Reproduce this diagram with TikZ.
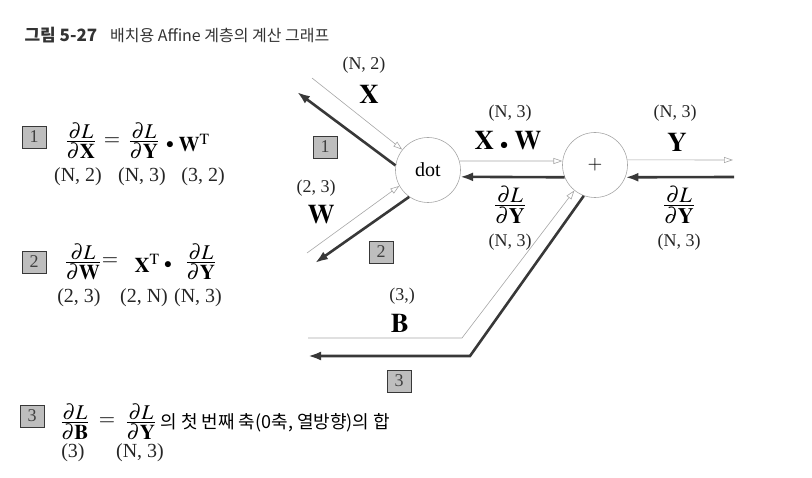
\documentclass[tikz,border=0pt]{standalone}
\usepackage{amsmath}
\usepackage{mathptmx}
\usepackage{fontspec}
\setmainfont{Liberation Serif}
\newfontfamily\krfont{Noto Sans CJK KR}
\usetikzlibrary{arrows.meta}
\definecolor{fwdgray}{HTML}{A6A6A6}
\definecolor{backdark}{HTML}{383838}
\definecolor{boxgray}{HTML}{BEBEBE}
% tight gradient fraction, dL/d(bold #1)
\newcommand{\gradof}[1]{\frac{\textstyle\partial L}{\textstyle\partial\mathbf{#1}}}

\begin{document}
\begin{tikzpicture}[x=1pt,y=-1pt,
  fwd/.style={draw=fwdgray, line width=0.6pt, -{Triangle[open,length=9pt,width=6pt]}},
  back/.style={draw=backdark, line width=2.6pt, -{Latex[length=13pt,width=9pt]}},
  opnode/.style={circle, draw=fwdgray, line width=0.6pt, minimum size=65pt, inner sep=0pt},
  numbox/.style={draw=backdark, fill=boxgray, line width=0.8pt, minimum width=24pt,
    minimum height=22pt, inner sep=0pt, font=\fontsize{18}{18}\selectfont, text=black!75},
  dimlbl/.style={font=\fontsize{18}{18}\selectfont, text=black!85},
  eqdim/.style={font=\fontsize{20}{20}\selectfont, text=black!85},
  varlbl/.style={font=\fontsize{27}{27}\selectfont},
  gradlbl/.style={font=\fontsize{22}{22}\selectfont},
  eqterm/.style={font=\fontsize{21}{21}\selectfont},
  kr/.style={font=\krfont\fontsize{16}{16}\selectfont, text=black!80}]
  \useasboundingbox (0,0) rectangle (812,478);

  % ---------- title ----------
  \node[kr, anchor=west] (title) at (21,35) {{\fontsize{17}{17}\selectfont\bfseries 그림 5-27}\hspace{0.8em}배치용 Affine 계층의 계산 그래프};

  % ---------- nodes of the graph ----------
  \node[opnode, font=\fontsize{20}{20}\selectfont] (dot) at (428,170) {dot};
  \node[opnode, font=\fontsize{19}{19}\selectfont] (plus) at (595,165) {$+$};

  \coordinate (xin) at (312,78);
  \coordinate (xout) at (297,92);
  \coordinate (win) at (307,253);
  \coordinate (wout) at (315,263);
  \coordinate (yout) at (733,160);
  \coordinate (yin) at (734,177);
  \coordinate (bin) at (308,338);
  \coordinate (bbend) at (462,338);
  \coordinate (bbackbend) at (470,356);
  \coordinate (bout) at (308,356);

  % ---------- forward (thin) ----------
  \draw[fwd] (xin) -- (dot);
  \draw[fwd] (win) -- (dot.209);
  \draw[fwd] (dot.16) -- (plus.173);
  \draw[fwd] (plus.9) -- (yout);
  \draw[fwd] (bin) -- (bbend) -- (plus.231);

  % ---------- backward (thick) ----------
  \draw[back] (dot.172) -- (xout);
  \draw[back] (dot.235) -- (wout);
  \draw[back] (plus.202) -- (dot.348);
  \draw[back] (yin) -- (plus.338);
  \draw[back] (plus.250) -- (bbackbend) -- (bout);

  % ---------- labels on the graph ----------
  \node[dimlbl] (xdim) at (364,65) {(N, 2)};
  \node[varlbl] (xvar) at (369,94) {$\mathbf{X}$};
  \node[numbox] (gbox1) at (325,147) {1};
  \node[dimlbl] (wdim) at (316,188) {(2, 3)};
  \node[varlbl] (wvar) at (321,215) {$\mathbf{W}$};
  \node[numbox] (gbox2) at (381,252) {2};

  \node[dimlbl] (xwdim) at (510,113) {(N, 3)};
  \node[varlbl] (xwvar) at (508,141) {$\mathbf{X}\;{\scriptscriptstyle\bullet}\;\mathbf{W}$};
  \node[gradlbl] (xwgrad) at (510,205) {$\gradof{Y}$};
  \node[dimlbl] (xwgraddim) at (510,242) {(N, 3)};

  \node[dimlbl] (ydim) at (675,113) {(N, 3)};
  \node[varlbl] (yvar) at (677,142) {$\mathbf{Y}$};
  \node[gradlbl] (ygrad) at (679,205) {$\gradof{Y}$};
  \node[dimlbl] (ygraddim) at (679,242) {(N, 3)};

  \node[dimlbl] (bdim) at (402,296) {(3,)};
  \node[varlbl] (bvar) at (400,323) {$\mathbf{B}$};
  \node[numbox] (gbox3) at (399,381) {3};

  % ---------- equation 1 ----------
  \node[numbox] (ebox1) at (34,137) {1};
  \node[eqterm] (e1lhs) at (81,141) {$\gradof{X}$};
  \node[eqterm] (e1eq) at (112,142) {$=$};
  \node[eqterm] (e1rhs) at (144,141) {$\gradof{Y}$};
  \node[eqterm] (e1dot) at (170,145) {${\scriptstyle\bullet}$};
  \node[eqterm, anchor=west] (e1w) at (175,143) {$\mathbf{W}^{\mathrm{T}}$};
  \node[eqdim] (e1dima) at (78,177) {(N, 2)};
  \node[eqdim] (e1dimb) at (142,177) {(N, 3)};
  \node[eqdim] (e1dimc) at (203,177) {(3, 2)};

  % ---------- equation 2 ----------
  \node[numbox] (ebox2) at (34,262) {2};
  \node[eqterm] (e2lhs) at (83,262) {$\gradof{W}$};
  \node[eqterm] (e2eq) at (110,262) {$=$};
  \node[eqterm, anchor=west] (e2x) at (131,263) {$\mathbf{X}^{\mathrm{T}}$};
  \node[eqterm] (e2dot) at (168,265) {${\scriptstyle\bullet}$};
  \node[eqterm] (e2rhs) at (201,262) {$\gradof{Y}$};
  \node[eqdim] (e2dima) at (79,298) {(2, 3)};
  \node[eqdim] (e2dimb) at (144,298) {(2, N)};
  \node[eqdim] (e2dimc) at (198,298) {(N, 3)};

  % ---------- equation 3 ----------
  \node[numbox] (ebox3) at (32,416) {3};
  \node[eqterm] (e3lhs) at (75,422) {$\gradof{B}$};
  \node[eqterm] (e3eq) at (107,422) {$=$};
  \node[eqterm] (e3rhs) at (141,422) {$\gradof{Y}$};
  \node[kr, anchor=west, font=\krfont\fontsize{18}{18}\selectfont, text=black] (e3text) at (157,423) {의 첫 번째 축(0축, 열방향)의 합};
  \node[eqdim] (e3dima) at (73,453) {(3)};
  \node[eqdim] (e3dimb) at (140,453) {(N, 3)};
\end{tikzpicture}
\end{document}
